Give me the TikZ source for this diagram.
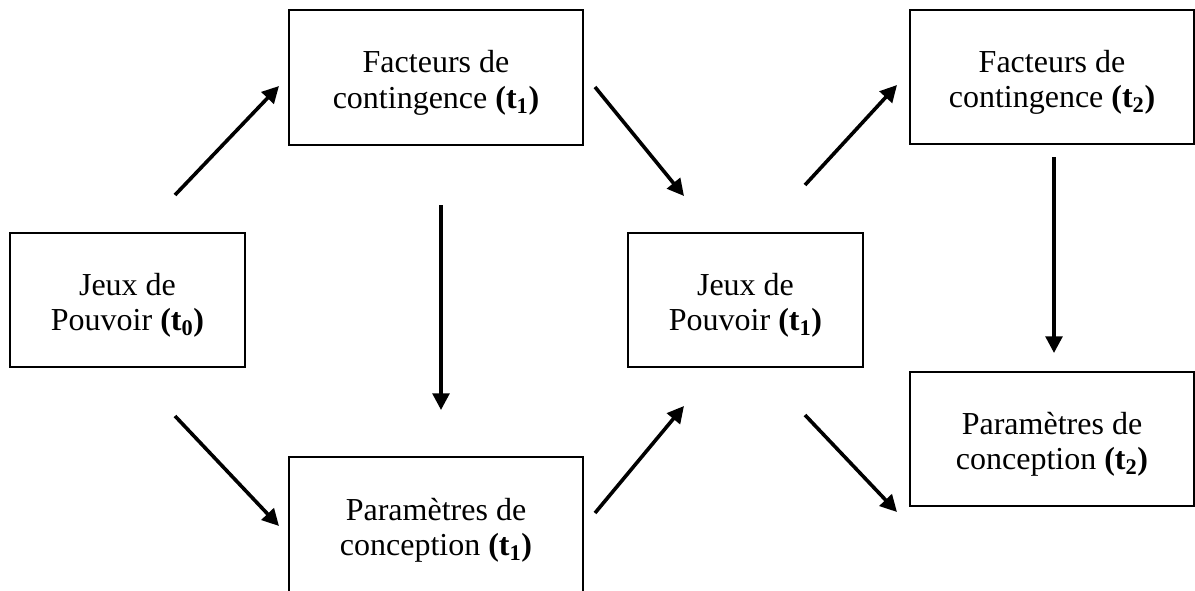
\documentclass[tikz,border=0pt]{standalone}
\usepackage{fontspec}
\setmainfont{Liberation Serif}
\usetikzlibrary{arrows.meta}
\begin{document}
\begin{tikzpicture}[x=0.75pt,y=-0.75pt,
  box/.style={draw=black,line width=1.1pt,rectangle,inner sep=0pt,
    align=center,font=\fontsize{24}{26.5}\selectfont},
  flow/.style={line width=2.7pt,-{Triangle[width=12.5pt,length=12.5pt]}}]
\useasboundingbox (0,0) rectangle (1195,590);
% boxes: centre, width, height in pixels
\node[box,minimum width=235*0.75pt,minimum height=134*0.75pt] (j0) at (127.5,300) {};
\node[box,minimum width=294*0.75pt,minimum height=135*0.75pt] (f1) at (436,77.5) {};
\node[box,minimum width=294*0.75pt,minimum height=136*0.75pt] (p1) at (436,525) {};
\node[box,minimum width=235*0.75pt,minimum height=134*0.75pt] (j1) at (745.5,300) {};
\node[box,minimum width=284*0.75pt,minimum height=134*0.75pt] (f2) at (1052,77) {};
\node[box,minimum width=284*0.75pt,minimum height=134*0.75pt] (p2) at (1052,439) {};
% labels
\tikzset{lbl/.style={align=center,font=\fontsize{24}{26.5}\selectfont,yshift=-4pt}}
\node[lbl] (j0t) at (j0.center) {Jeux de\\Pouvoir \textbf{(t\textsubscript{0})}};
\node[lbl] (f1t) at (f1.center) {Facteurs de\\contingence \textbf{(t\textsubscript{1})}};
\node[lbl] (p1t) at (p1.center) {Paramètres de\\conception \textbf{(t\textsubscript{1})}};
\node[lbl] (j1t) at (j1.center) {Jeux de\\Pouvoir \textbf{(t\textsubscript{1})}};
\node[lbl] (f2t) at (f2.center) {Facteurs de\\contingence \textbf{(t\textsubscript{2})}};
\node[lbl] (p2t) at (p2.center) {Paramètres de\\conception \textbf{(t\textsubscript{2})}};
% arrow end points
\coordinate (a1s) at (175,195);  \coordinate (a1e) at (279,86);
\coordinate (a2s) at (175,416);  \coordinate (a2e) at (279,526);
\coordinate (a3s) at (441,205);  \coordinate (a3e) at (441,410);
\coordinate (a4s) at (595,87);   \coordinate (a4e) at (684,196);
\coordinate (a5s) at (595,513);  \coordinate (a5e) at (684,406);
\coordinate (a6s) at (805,185);  \coordinate (a6e) at (897,85);
\coordinate (a7s) at (805,415);  \coordinate (a7e) at (897,512);
\coordinate (a8s) at (1054,157); \coordinate (a8e) at (1054,353);
\draw[flow] (a1s) -- (a1e);
\draw[flow] (a2s) -- (a2e);
\draw[flow] (a3s) -- (a3e);
\draw[flow] (a4s) -- (a4e);
\draw[flow] (a5s) -- (a5e);
\draw[flow] (a6s) -- (a6e);
\draw[flow] (a7s) -- (a7e);
\draw[flow] (a8s) -- (a8e);
\end{tikzpicture}
\end{document}
